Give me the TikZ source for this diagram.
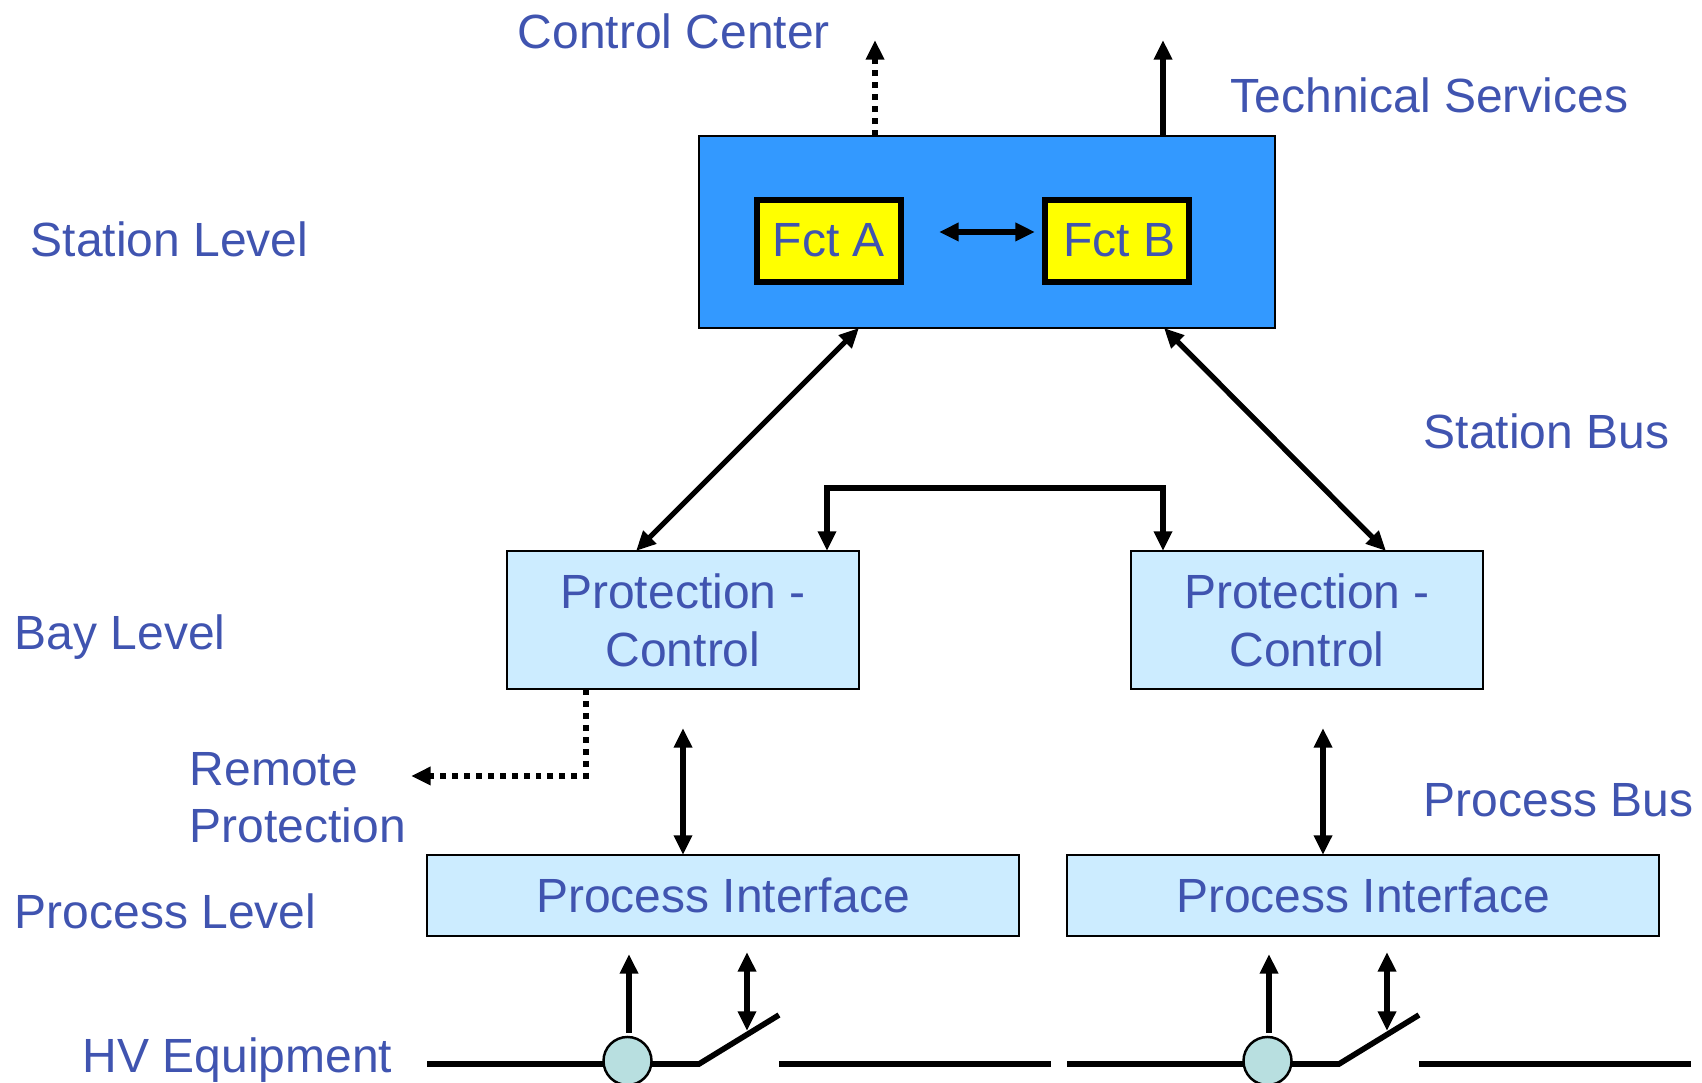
\documentclass[tikz,border=0pt]{standalone}
\usepackage{fontspec}
\setmainfont{Liberation Sans}
\usetikzlibrary{arrows.meta}
\definecolor{labelBlue}{RGB}{64,84,176}
\definecolor{stationBlue}{RGB}{51,153,255}
\definecolor{boxBlue}{RGB}{204,236,255}
\definecolor{sensorTeal}{RGB}{184,223,224}
\definecolor{fctYellow}{RGB}{255,255,0}
\begin{document}
\begin{tikzpicture}[x = 0.01cm, y = -0.01cm, font=\fontsize{13.65}{16.5}\selectfont, text = labelBlue]
	\tikzstyle{labelStyle} = [anchor = base west, inner sep = 0pt, align = left]
	\tikzstyle{boxStyle} = [draw = black, line width = 0.7pt, fill = boxBlue, inner sep = 0pt, align = center]
	\tikzstyle{fctStyle} = [draw = black, line width = 1.5pt, fill = fctYellow, inner sep = 0pt, minimum width = 1.44cm, minimum height = 0.82cm, text height = 0.32cm]
	\tikzstyle{linkStyle} = [draw = black, line width = 1.5pt, -{Triangle[length = 5.6pt, width = 5pt]}]
	\tikzstyle{biLinkStyle} = [linkStyle, {Triangle[length = 5.6pt, width = 5pt]}-{Triangle[length = 5.6pt, width = 5pt]}]
	\tikzstyle{dotLinkStyle} = [linkStyle, line width = 1.6pt, dash pattern = on 1.7pt off 1.7pt]
	\tikzstyle{lineStyle} = [draw = black, line width = 1.6pt]
	\useasboundingbox (0,0) rectangle (1702,1083);
	% labels
	\node[labelStyle] (lControl) at (517,49) {Control Center};
	\node[labelStyle] (lTechnical) at (1230,113) {Technical Services};
	\node[labelStyle] (lStation) at (30,257) {Station Level};
	\node[labelStyle] (lStationBus) at (1423,449) {Station Bus};
	\node[labelStyle] (lBay) at (14,650) {Bay Level};
	\node[labelStyle] (lRemote) at (189,786) {Remote};
	\node[labelStyle] (lProtection) at (189,843) {Protection};
	\node[labelStyle] (lProcessBus) at (1423,817) {Process Bus};
	\node[labelStyle] (lProcess) at (14,929) {Process Level};
	\node[labelStyle] (lHV) at (82,1073) {HV Equipment};
	% boxes
	\node[boxStyle, fill = stationBlue, minimum width = 5.76cm, minimum height = 1.92cm] (station) at (987,232) {};
	\node[fctStyle] (fctA) at (829,241) {Fct A};
	\node[fctStyle] (fctB) at (1117,241) {\hspace{1.5pt}Fct B};
	\node[boxStyle, minimum width = 3.52cm, minimum height = 1.38cm] (bayA) at (683,620) {Protection -\\Control};
	\node[boxStyle, minimum width = 3.52cm, minimum height = 1.38cm] (bayB) at (1307,620) {Protection -\\Control};
	\node[boxStyle, minimum width = 5.92cm, minimum height = 0.81cm] (procA) at (723,895.5) {Process Interface};
	\node[boxStyle, minimum width = 5.92cm, minimum height = 0.81cm] (procB) at (1363,895.5) {Process Interface};
	% free ends of the connectors
	\coordinate (cOut) at (875,40);
	\coordinate (cOutIn) at (875,136);
	\coordinate (tOut) at (1163,40);
	\coordinate (tOutIn) at (1163,136);
	\coordinate (fA) at (939,232);
	\coordinate (fB) at (1035,232);
	\coordinate (sA) at (859,328);
	\coordinate (sB) at (1164,328);
	\coordinate (bA) at (636,551);
	\coordinate (bB) at (1386,551);
	\coordinate (hA) at (827,551);
	\coordinate (hB) at (1163,551);
	\coordinate (rA) at (586,689);
	\coordinate (rB) at (586,776);
	\coordinate (rC) at (411,776);
	\coordinate (vA) at (683,728);
	\coordinate (vAin) at (683,855);
	\coordinate (vB) at (1323,728);
	\coordinate (vBin) at (1323,855);
	% links
	\draw[dotLinkStyle] (cOutIn) -- (cOut);
	\draw[linkStyle] (tOutIn) -- (tOut);
	\draw[biLinkStyle] (fA) -- (fB);
	\draw[biLinkStyle] (sA) -- (bA);
	\draw[biLinkStyle] (sB) -- (bB);
	\draw[biLinkStyle] (hA) -- (827,488) -- (1163,488) -- (hB);
	\draw[dotLinkStyle] (rA) -- (rB) -- (rC);
	\draw[biLinkStyle] (vA) -- (vAin);
	\draw[biLinkStyle] (vB) -- (vBin);
	% hv equipment
	\foreach \name/\dx in {A/0,B/640}{
		\coordinate (busL\name) at (427+\dx,1064);
		\coordinate (pivot\name) at (699+\dx,1064);
		\coordinate (blade\name) at (779+\dx,1015);
		\coordinate (busR\name) at (779+\dx,1064);
		\coordinate (busE\name) at (1051+\dx,1064);
		\coordinate (sensTop\name) at (629+\dx,1033);
		\coordinate (sensEnd\name) at (629+\dx,954);
		\coordinate (swBot\name) at (747+\dx,1031);
		\coordinate (swTop\name) at (747+\dx,952);
		\draw[lineStyle] (busL\name) -- (pivot\name) -- (blade\name);
		\draw[lineStyle] (busR\name) -- (busE\name);
		\node[draw = black, line width = 0.7pt, fill = sensorTeal, shape = circle, minimum size = 0.48cm, inner sep = 0pt] (sensor\name) at (627.5+\dx,1061) {};
		\draw[linkStyle] (sensTop\name) -- (sensEnd\name);
		\draw[biLinkStyle] (swBot\name) -- (swTop\name);
	}
\end{tikzpicture}
\end{document}
